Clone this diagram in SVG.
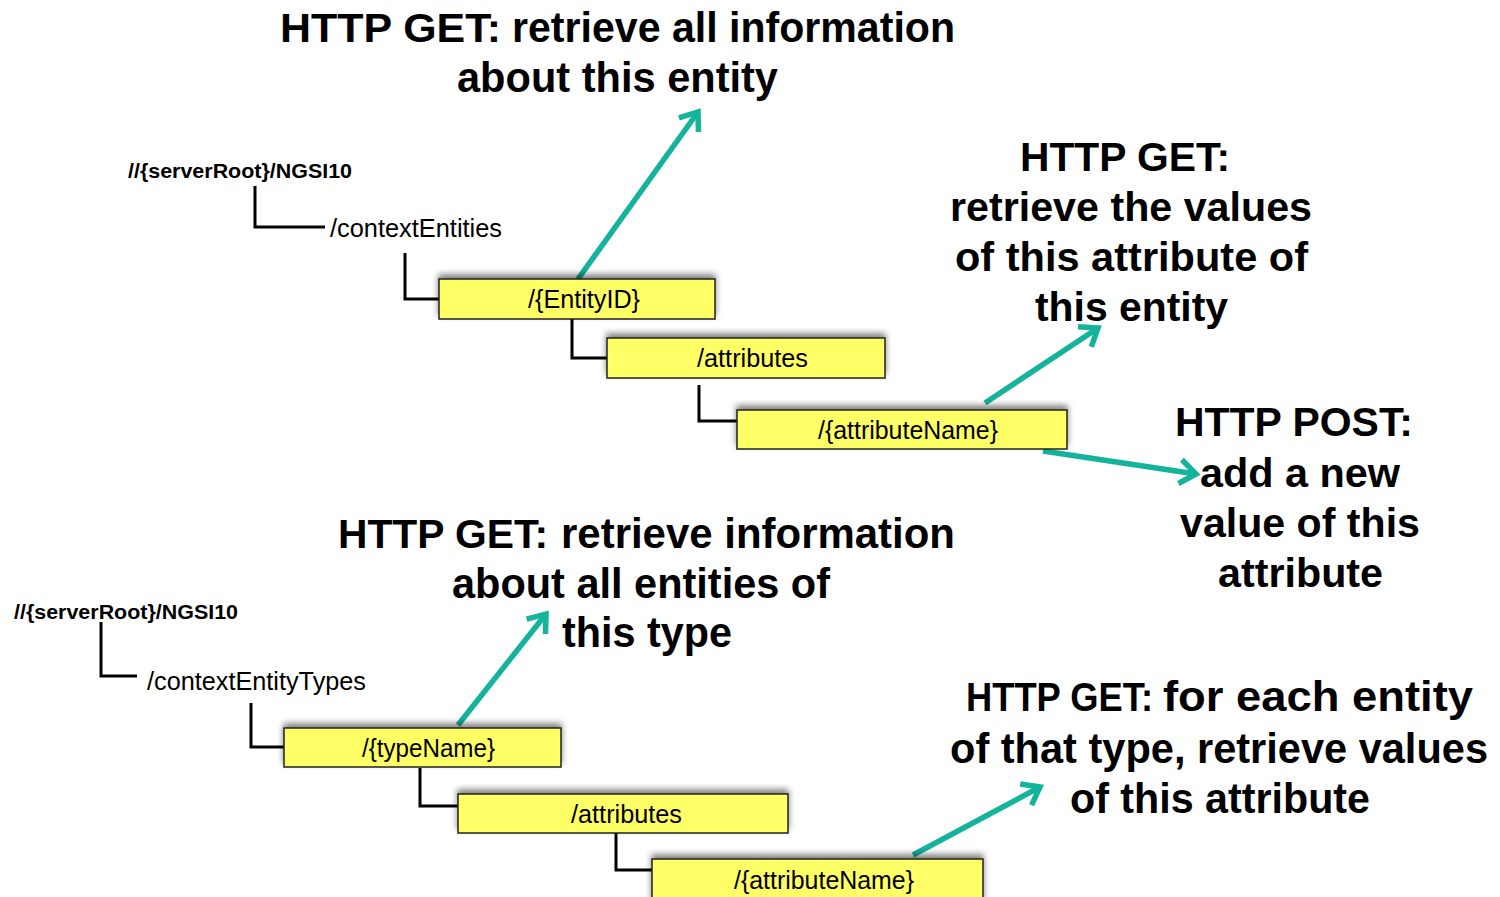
<svg xmlns="http://www.w3.org/2000/svg" width="1500" height="897" viewBox="0 0 1500 897">
<style>
.h{font-family:"Liberation Sans",Arial,sans-serif;font-size:41px;font-weight:bold;fill:#000}
.n{font-size:42px}
.p{font-family:"Liberation Sans",Arial,sans-serif;font-size:25px;fill:#000}
.r{font-family:"Liberation Sans",Arial,sans-serif;font-size:20px;font-weight:bold;fill:#000}
.box{fill:#FFFF66;stroke:#222;stroke-width:1.5;filter:url(#sh)}
.tree{fill:none;stroke:#000;stroke-width:3}
.arr{fill:none;stroke:#14B39C;stroke-width:5.5;marker-end:url(#ah)}
</style>
<defs>
<filter id="sh" x="-10%" y="-60%" width="120%" height="200%">
<feGaussianBlur in="SourceAlpha" stdDeviation="3"/>
<feOffset dx="0" dy="-4" result="o"/>
<feComponentTransfer><feFuncA type="linear" slope="0.5"/></feComponentTransfer>
<feMerge><feMergeNode/><feMergeNode in="SourceGraphic"/></feMerge>
</filter>
<marker id="ah" markerUnits="userSpaceOnUse" viewBox="0 0 30 30" markerWidth="30" markerHeight="30" refX="25" refY="15" orient="auto">
<path d="M9,3 L25,15 L9,27" fill="none" stroke="#14B39C" stroke-width="5.5"/>
</marker>
</defs>
<rect width="1500" height="897" fill="#fff"/>

<g id="connectors">
<path class="tree" d="M255,186 V227 H325"/>
<path class="tree" d="M405,253 V299 H440"/>
<path class="tree" d="M572,313 V358 H607"/>
<path class="tree" d="M699,385 V421 H737"/>
<path class="tree" d="M101,622 V676 H137"/>
<path class="tree" d="M251,703 V747 H284"/>
<path class="tree" d="M420,768 V806 H458"/>
<path class="tree" d="M616,833 V870 H652"/>
<line class="arr" x1="578" y1="279" x2="698" y2="112"/>
<line class="arr" x1="985" y1="403" x2="1098" y2="328"/>
<line class="arr" x1="1043" y1="451" x2="1196" y2="474"/>
<line class="arr" x1="458" y1="725" x2="546" y2="614"/>
<line class="arr" x1="913" y1="855" x2="1040" y2="787"/>
</g>

<g id="root1"><text class="r" x="128" y="178" textLength="224" lengthAdjust="spacingAndGlyphs">//{serverRoot}/NGSI10</text></g>
<g id="contextEntities"><text class="p" x="330" y="237" textLength="172" lengthAdjust="spacingAndGlyphs">/contextEntities</text></g>
<g id="entityID"><rect class="box" x="439" y="279" width="276" height="40"/><text class="p" x="528" y="308" textLength="112" lengthAdjust="spacingAndGlyphs">/{EntityID}</text></g>
<g id="attributes1"><rect class="box" x="607" y="338" width="278" height="40"/><text class="p" x="697" y="367" textLength="111" lengthAdjust="spacingAndGlyphs">/attributes</text></g>
<g id="attributeName1"><rect class="box" x="737" y="410" width="330" height="39"/><text class="p" x="818" y="439" textLength="180" lengthAdjust="spacingAndGlyphs">/{attributeName}</text></g>

<g id="root2"><text class="r" x="14" y="619" textLength="224" lengthAdjust="spacingAndGlyphs">//{serverRoot}/NGSI10</text></g>
<g id="contextEntityTypes"><text class="p" x="147" y="690" textLength="219" lengthAdjust="spacingAndGlyphs">/contextEntityTypes</text></g>
<g id="typeName"><rect class="box" x="284" y="728" width="277" height="39"/><text class="p" x="362" y="757" textLength="133" lengthAdjust="spacingAndGlyphs">/{typeName}</text></g>
<g id="attributes2"><rect class="box" x="458" y="794" width="330" height="39"/><text class="p" x="571" y="823" textLength="111" lengthAdjust="spacingAndGlyphs">/attributes</text></g>
<g id="attributeName2"><rect class="box" x="652" y="859" width="331" height="45"/><text class="p" x="734" y="889" textLength="180" lengthAdjust="spacingAndGlyphs">/{attributeName}</text></g>

<g id="label-get-entity">
<text class="h" x="280" y="42" textLength="221" lengthAdjust="spacingAndGlyphs">HTTP GET:</text>
<text class="h n" x="512" y="42" textLength="443" lengthAdjust="spacingAndGlyphs">retrieve all information</text>
<text class="h n" x="457" y="92" textLength="321" lengthAdjust="spacingAndGlyphs">about this entity</text>
</g>
<g id="label-get-attr">
<text class="h" x="1020" y="171" textLength="210" lengthAdjust="spacingAndGlyphs">HTTP GET:</text>
<text class="h" x="950" y="221" textLength="362" lengthAdjust="spacingAndGlyphs">retrieve the values</text>
<text class="h" x="955" y="271" textLength="353" lengthAdjust="spacingAndGlyphs">of this attribute of</text>
<text class="h" x="1035" y="321" textLength="193" lengthAdjust="spacingAndGlyphs">this entity</text>
</g>
<g id="label-post">
<text class="h" x="1175" y="436" textLength="238" lengthAdjust="spacingAndGlyphs">HTTP POST:</text>
<text class="h" x="1200" y="487" textLength="200" lengthAdjust="spacingAndGlyphs">add a new</text>
<text class="h" x="1180" y="537" textLength="240" lengthAdjust="spacingAndGlyphs">value of this</text>
<text class="h" x="1218" y="587" textLength="165" lengthAdjust="spacingAndGlyphs">attribute</text>
</g>
<g id="label-get-type">
<text class="h" x="338" y="548" textLength="210" lengthAdjust="spacingAndGlyphs">HTTP GET:</text>
<text class="h n" x="561" y="548" textLength="394" lengthAdjust="spacingAndGlyphs">retrieve information</text>
<text class="h n" x="452" y="598" textLength="378" lengthAdjust="spacingAndGlyphs">about all entities of</text>
<text class="h n" x="562" y="647" textLength="170" lengthAdjust="spacingAndGlyphs">this type</text>
</g>
<g id="label-get-type-attr">
<text class="h" x="966" y="711" textLength="187" lengthAdjust="spacingAndGlyphs">HTTP GET:</text>
<text class="h n" x="1163" y="711" textLength="310" lengthAdjust="spacingAndGlyphs">for each entity</text>
<text class="h n" x="950" y="763" textLength="538" lengthAdjust="spacingAndGlyphs">of that type, retrieve values</text>
<text class="h n" x="1070" y="813" textLength="300" lengthAdjust="spacingAndGlyphs">of this attribute</text>
</g>
</svg>
